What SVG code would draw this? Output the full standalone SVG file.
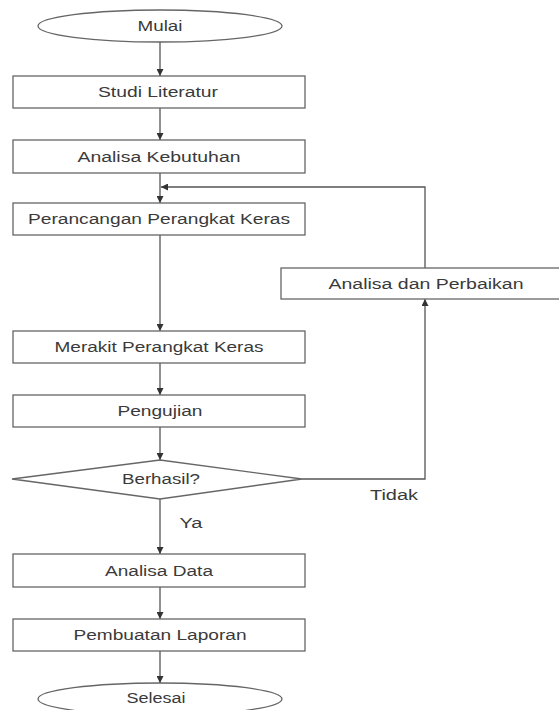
<svg xmlns="http://www.w3.org/2000/svg" width="559" height="710" viewBox="0 0 559 710">
<style>
.box{fill:#fff;stroke:#666;stroke-width:1.3}
.lbl{font-family:"Liberation Sans",Arial,sans-serif;font-size:14px;fill:#3a3a3a;text-anchor:middle}
.edge{fill:none;stroke:#555;stroke-width:1.3}
</style>
<defs>
<marker id="ah" viewBox="0 0 8 8" refX="8" refY="4" markerWidth="7" markerHeight="7" markerUnits="userSpaceOnUse" orient="auto">
<path d="M0,0 L8,4 L0,8 z" fill="#333"/>
</marker>
</defs>
<rect width="559" height="710" fill="#fff"/>
<g id="connectors">
<line class="edge" x1="160" y1="42" x2="160" y2="76" marker-end="url(#ah)"/>
<line class="edge" x1="160" y1="108" x2="160" y2="140" marker-end="url(#ah)"/>
<line class="edge" x1="160" y1="173" x2="160" y2="203" marker-end="url(#ah)"/>
<line class="edge" x1="160" y1="235" x2="160" y2="331" marker-end="url(#ah)"/>
<line class="edge" x1="160" y1="363" x2="160" y2="395" marker-end="url(#ah)"/>
<line class="edge" x1="160" y1="427" x2="160" y2="460" marker-end="url(#ah)"/>
<line class="edge" x1="160" y1="499" x2="160" y2="554" marker-end="url(#ah)"/>
<line class="edge" x1="160" y1="587" x2="160" y2="619" marker-end="url(#ah)"/>
<line class="edge" x1="160" y1="651" x2="160" y2="683" marker-end="url(#ah)"/>
<polyline class="edge" points="302,479 425,479 425,299" marker-end="url(#ah)"/>
<polyline class="edge" points="425,268 425,187 161,187" marker-end="url(#ah)"/>
<text class="lbl" x="394" y="500" textLength="48" lengthAdjust="spacingAndGlyphs">Tidak</text>
<text class="lbl" x="191" y="528" textLength="23" lengthAdjust="spacingAndGlyphs">Ya</text>
</g>
<g id="mulai">
<ellipse class="box" cx="160" cy="26" rx="122" ry="16"/>
<text class="lbl" x="160" y="31" textLength="45" lengthAdjust="spacingAndGlyphs">Mulai</text>
</g>
<g id="studi-literatur">
<rect class="box" x="13" y="76" width="292" height="32"/>
<text class="lbl" x="158" y="97" textLength="120" lengthAdjust="spacingAndGlyphs">Studi Literatur</text>
</g>
<g id="analisa-kebutuhan">
<rect class="box" x="13" y="140" width="292" height="33"/>
<text class="lbl" x="159" y="161.5" textLength="163" lengthAdjust="spacingAndGlyphs">Analisa Kebutuhan</text>
</g>
<g id="perancangan">
<rect class="box" x="13" y="203" width="292" height="32"/>
<text class="lbl" x="159" y="224" textLength="262" lengthAdjust="spacingAndGlyphs">Perancangan Perangkat Keras</text>
</g>
<g id="analisa-perbaikan">
<rect class="box" x="281" y="268" width="292" height="31"/>
<text class="lbl" x="426" y="288.5" textLength="195" lengthAdjust="spacingAndGlyphs">Analisa dan Perbaikan</text>
</g>
<g id="merakit">
<rect class="box" x="13" y="331" width="292" height="32"/>
<text class="lbl" x="159" y="352" textLength="209" lengthAdjust="spacingAndGlyphs">Merakit Perangkat Keras</text>
</g>
<g id="pengujian">
<rect class="box" x="13" y="395" width="292" height="32"/>
<text class="lbl" x="160" y="416" textLength="85" lengthAdjust="spacingAndGlyphs">Pengujian</text>
</g>
<g id="berhasil">
<polygon class="box" points="160,460 302,479 160,499 12,479"/>
<text class="lbl" x="161" y="484" textLength="78" lengthAdjust="spacingAndGlyphs">Berhasil?</text>
</g>
<g id="analisa-data">
<rect class="box" x="13" y="554" width="292" height="33"/>
<text class="lbl" x="159" y="575.5" textLength="108" lengthAdjust="spacingAndGlyphs">Analisa Data</text>
</g>
<g id="pembuatan-laporan">
<rect class="box" x="13" y="619" width="292" height="32"/>
<text class="lbl" x="160" y="640" textLength="173" lengthAdjust="spacingAndGlyphs">Pembuatan Laporan</text>
</g>
<g id="selesai">
<ellipse class="box" cx="160" cy="699" rx="122" ry="16"/>
<text class="lbl" x="156" y="703" textLength="59" lengthAdjust="spacingAndGlyphs">Selesai</text>
</g>
</svg>
